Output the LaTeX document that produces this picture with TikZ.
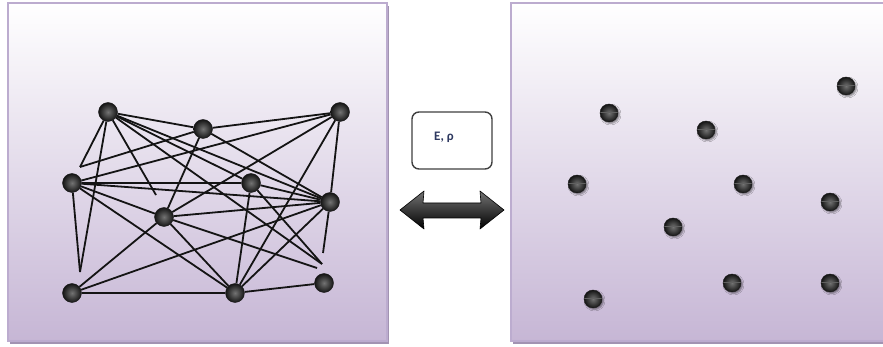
\documentclass[tikz,border=0pt]{standalone}
\usepackage{fontspec}
\setmainfont{Carlito}
\usetikzlibrary{shadows.blur}
\definecolor{panelbot}{HTML}{C6B6D5}
\definecolor{panelline}{HTML}{BCACCF}
\definecolor{panelshadow}{HTML}{A293B2}
\definecolor{labeltext}{HTML}{2E3960}
\begin{document}
\begin{tikzpicture}[x=1pt,y=-1pt,
  panel/.style={draw=panelline, line width=1.2pt, top color=white, bottom color=panelbot},
  ldot/.style={circle, inner sep=0pt, minimum size=19pt, draw=black!90, line width=0.4pt,
    inner color=black!55, outer color=black!92},
  rdot/.style={circle, inner sep=0pt, minimum size=18pt, draw=black!90, line width=0.4pt,
    inner color=black!55, outer color=black!92,
    blur shadow={shadow xshift=1.5pt, shadow yshift=-1.5pt, shadow blur radius=1.5pt, shadow opacity=45},
    path picture={\draw[black!62, line width=0.8pt]
      ([yshift=0.5pt]path picture bounding box.west) -- ([yshift=0.5pt]path picture bounding box.east);}},
  edge/.style={draw=black!92, line width=1.8pt},
  labelbox/.style={draw=black!75, line width=1.4pt, fill=white, rounded corners=7pt,
    minimum width=80pt, minimum height=57pt},
]
\useasboundingbox (0,0) rectangle (883,347);
\fill[white] (0,0) rectangle (883,347);

% two panels with a soft drop shadow
\fill[panelshadow] (10,6) rectangle (389,344);
\path[panel] (8,3) rectangle (387,341);
\fill[panelshadow] (513,6) rectangle (900,344);
\path[panel] (511,3) rectangle (900,341);

% connected graph
\node[ldot] (A) at (108,112) {};
\node[ldot] (B) at (203,129) {};
\node[ldot] (C) at (340,112) {};
\node[ldot] (D) at (72,183) {};
\node[ldot] (E) at (251,183) {};
\node[ldot] (F) at (330,202) {};
\node[ldot] (G) at (164,217) {};
\node[ldot] (H) at (72,293) {};
\node[ldot] (I) at (235,293) {};
\node[ldot] (J) at (324,283) {};
\coordinate (p1) at (80,167);
\coordinate (p2) at (156,195);
\coordinate (p3) at (80,272);
\coordinate (p4) at (322,264);
\coordinate (p5) at (317,268);
\coordinate (p6) at (323,253);

\draw[edge] (A) -- (B);
\draw[edge] (B) -- (C);
\draw[edge] (A) -- (p1);
\draw[edge] (p1) -- (B);
\draw[edge] (A) -- (p3);
\draw[edge] (D) -- (p3);
\draw[edge] (A) -- (p2);
\draw[edge] (A) -- (E);
\draw[edge] (A) -- (F);
\draw[edge] (A) -- (p4);
\draw[edge] (D) -- (C);
\draw[edge] (D) -- (E);
\draw[edge] (D) -- (F);
\draw[edge] (D) -- (G);
\draw[edge] (D) -- (I);
\draw[edge] (B) -- (G);
\draw[edge] (B) -- (F);
\draw[edge] (G) -- (C);
\draw[edge] (C) -- (I);
\draw[edge] (C) -- (F);
\draw[edge] (E) -- (I);
\draw[edge] (E) -- (F);
\draw[edge] (E) -- (p4);
\draw[edge] (G) -- (F);
\draw[edge] (G) -- (I);
\draw[edge] (G) -- (p5);
\draw[edge] (H) -- (I);
\draw[edge] (H) -- (G);
\draw[edge] (H) -- (F);
\draw[edge] (I) -- (J);
\draw[edge] (I) -- (F);
\draw[edge] (F) -- (p6);

% label box
\node[labelbox] (box) at (452,140.5) {};
\node[font=\bfseries\fontsize{13}{15}\selectfont, text=labeltext, inner sep=0pt] (lbl) at (444,137) {E, ρ};

% double-headed arrow
\path[top color=black!55, bottom color=black, draw=black, line width=0.6pt, line join=round]
  (400,210) -- (424,191) -- (423,203) -- (481,203) -- (480,191) -- (504,210)
  -- (480,229) -- (481,218) -- (423,218) -- (424,229) -- cycle;

% unconnected particles
\node[rdot] (a) at (609,113) {};
\node[rdot] (b) at (706,130) {};
\node[rdot] (c) at (846,86) {};
\node[rdot] (d) at (577,184) {};
\node[rdot] (e) at (743,184) {};
\node[rdot] (f) at (830,202) {};
\node[rdot] (g) at (673,227) {};
\node[rdot] (h) at (593,299) {};
\node[rdot] (i) at (732,283) {};
\node[rdot] (j) at (830,283) {};
\end{tikzpicture}
\end{document}
